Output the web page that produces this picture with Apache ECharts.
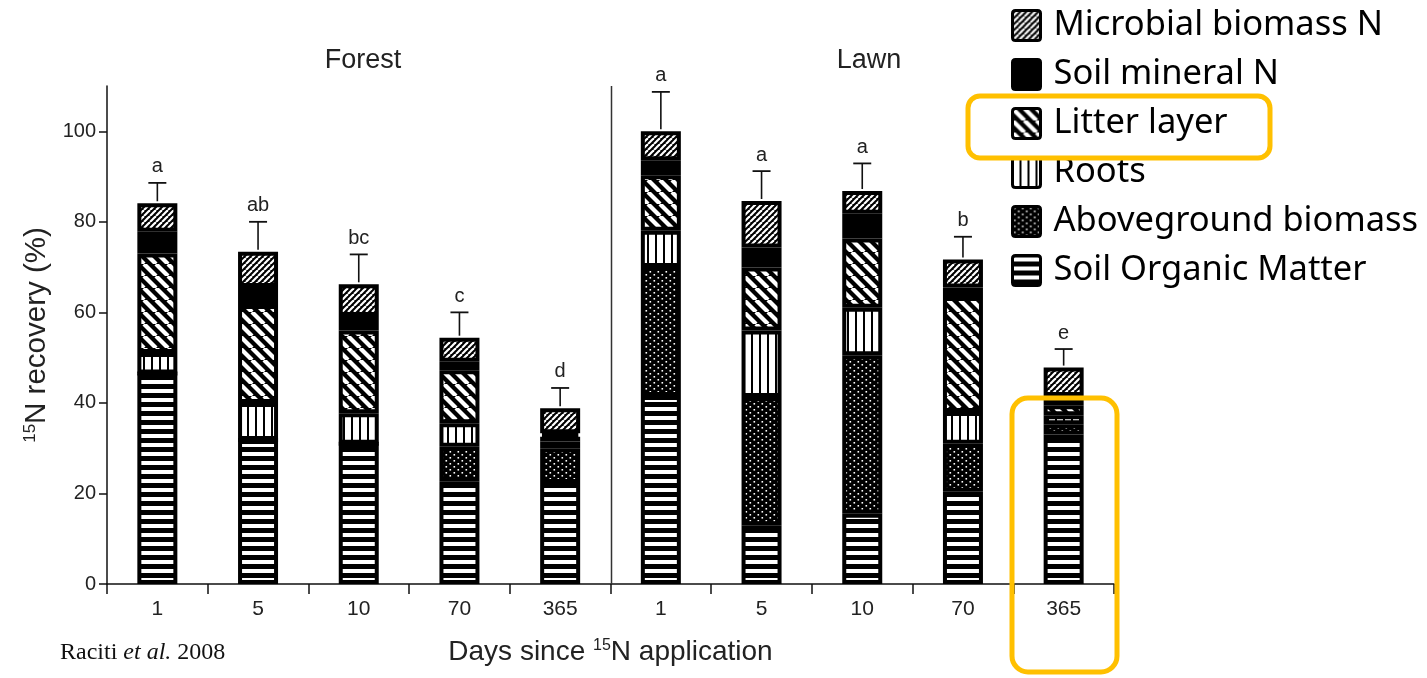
<!DOCTYPE html>
<html>
<head>
<meta charset="utf-8">
<script src="https://cdn.jsdelivr.net/npm/echarts@6/dist/echarts.min.js"></script>
<style>
  html, body { margin: 0; padding: 0; background: #fff; }
  #chart { width: 1427px; height: 678px; }
</style>
</head>
<body>
<div id="chart"></div>
<script>
// Days since 15N application, Forest (first five) then Lawn (last five)
const categories = ['1', '5', '10', '70', '365', '1', '5', '10', '70', '365'];
const yTicks = [0, 20, 40, 60, 80, 100];

// 15N recovery (%) by pool, stacked bottom to top
const soilOrganicMatter = [46.5, 31.8, 31.0, 22.6, 22.3, 41.5, 13.0, 15.5, 20.4, 33.0];
const abovegroundBiomass = [0, 0, 0, 7.7, 7.7, 28.5, 28.3, 35.0, 10.6, 2.3];
const roots = [4.5, 8.2, 6.7, 5.2, 1.5, 8.0, 14.7, 10.5, 7.0, 2.0];
const litterLayer = [22.0, 21.6, 18.3, 11.7, 1.0, 12.3, 13.9, 15.3, 25.4, 2.2];
const soilMineralN = [4.8, 4.0, 3.2, 1.9, 0.8, 3.3, 4.4, 5.5, 2.1, 2.0];
const microbialBiomassN = [6.3, 7.8, 7.0, 5.3, 5.5, 6.4, 10.3, 5.0, 6.2, 6.3];

// Upper end of the error bar and significance letters
const errorTop = [88.6, 80.0, 72.8, 60.0, 43.3, 108.7, 91.2, 92.9, 76.7, 51.9];
const letters = ['a', 'ab', 'bc', 'c', 'd', 'a', 'a', 'a', 'b', 'e'];

const groups = ['Forest', 'Lawn'];

// ---------- fill patterns (white marks on black) ----------
function makeCanvas(w, h, draw) {
  const c = document.createElement('canvas');
  c.width = w; c.height = h;
  const ctx = c.getContext('2d');
  ctx.fillStyle = '#000';
  ctx.fillRect(0, 0, w, h);
  ctx.fillStyle = '#fff';
  ctx.strokeStyle = '#fff';
  draw(ctx, w, h);
  return c;
}
function diagonal(ctx, w, h, lw, dir) {
  ctx.lineWidth = lw;
  for (let k = -1; k <= 1; k++) {
    ctx.beginPath();
    if (dir > 0) { // "/"
      ctx.moveTo(k * w, h); ctx.lineTo(k * w + w, 0);
    } else {       // "\"
      ctx.moveTo(k * w, 0); ctx.lineTo(k * w + w, h);
    }
    ctx.stroke();
  }
}
const patSOM = makeCanvas(8, 9, (ctx, w) => ctx.fillRect(0, 2, w, 4));
const patRoots = makeCanvas(8, 8, (ctx, w, h) => ctx.fillRect(1, 0, 6, h));
const patLitter = makeCanvas(12, 12, (ctx, w, h) => diagonal(ctx, w, h, 4.2, -1));
const patMicrobial = makeCanvas(6, 6, (ctx, w, h) => diagonal(ctx, w, h, 2.2, 1));
const patAbove = makeCanvas(8, 6, (ctx) => {
  ctx.fillRect(1.5, 1, 1.6, 1.6);
  ctx.fillRect(5.5, 4, 1.6, 1.6);
});

function pattern(c) { return { image: c, repeat: 'repeat' }; }

const pools = [
  { name: 'Soil Organic Matter', data: soilOrganicMatter, fill: pattern(patSOM) },
  { name: 'Aboveground biomass', data: abovegroundBiomass, fill: pattern(patAbove) },
  { name: 'Roots', data: roots, fill: pattern(patRoots) },
  { name: 'Litter layer', data: litterLayer, fill: pattern(patLitter) },
  { name: 'Soil mineral N', data: soilMineralN, fill: '#000' },
  { name: 'Microbial biomass N', data: microbialBiomassN, fill: pattern(patMicrobial) }
];

const totals = categories.map((_, i) => pools.reduce((s, p) => s + p.data[i], 0));

const barSeries = pools.map(p => ({
  name: p.name,
  type: 'bar',
  stack: 'recovery',
  barWidth: 40,
  data: p.data,
  itemStyle: { color: p.fill, borderColor: '#000', borderWidth: 4 },
  emphasis: { disabled: true },
  animation: false
}));

const errorSeries = {
  type: 'custom',
  name: 'error',
  data: categories.map((_, i) => [i, totals[i], errorTop[i]]),
  renderItem: function (params, api) {
    const i = api.value(0);
    const base = api.coord([i, api.value(1)]);
    const top = api.coord([i, api.value(2)]);
    const cap = 9;
    return {
      type: 'group',
      children: [
        { type: 'line', shape: { x1: base[0], y1: base[1] - 2, x2: top[0], y2: top[1] },
          style: { stroke: '#111', lineWidth: 1.6 } },
        { type: 'line', shape: { x1: top[0] - cap, y1: top[1], x2: top[0] + cap, y2: top[1] },
          style: { stroke: '#111', lineWidth: 1.8 } },
        { type: 'text', x: top[0], y: top[1] - 6,
          style: { text: letters[params.dataIndex], align: 'center', verticalAlign: 'bottom',
                   fontFamily: 'Liberation Sans', fontSize: 20, fill: '#222' } }
      ]
    };
  },
  z: 5,
  animation: false
};

const chart = echarts.init(document.getElementById('chart'), null, { renderer: 'canvas' });

const legendIcon = 'path://M3,0 H25 Q28,0 28,3 V27 Q28,30 25,30 H3 Q0,30 0,27 V3 Q0,0 3,0 Z';

const option = {
  backgroundColor: '#fff',
  animation: false,
  grid: { left: 107, right: 313, top: 86, bottom: 94 },
  title: [
    { text: groups[0], left: 358, top: 42, textAlign: 'center',
      textStyle: { fontFamily: 'Liberation Sans', fontSize: 27, fontWeight: 'normal', color: '#222' } },
    { text: groups[1], left: 864, top: 42, textAlign: 'center',
      textStyle: { fontFamily: 'Liberation Sans', fontSize: 27, fontWeight: 'normal', color: '#222' } }
  ],
  legend: {
    orient: 'vertical',
    left: 1006,
    top: 3,
    itemWidth: 28,
    itemHeight: 30,
    itemGap: 14,
    icon: legendIcon,
    selectedMode: false,
    itemStyle: { borderColor: '#000', borderWidth: 3 },
    textStyle: { fontFamily: 'Noto Sans', fontSize: 34.5, lineHeight: 34, color: '#000', padding: [0, 0, 0, 8] },
    data: ['Microbial biomass N', 'Soil mineral N', 'Litter layer', 'Roots',
           'Aboveground biomass', 'Soil Organic Matter']
  },
  xAxis: {
    type: 'category',
    data: categories,
    boundaryGap: true,
    name: '{t|Days since }{sup|15}{t|N application}',
    nameLocation: 'middle',
    nameGap: 54,
    nameTextStyle: {
      rich: {
        t: { fontFamily: 'Liberation Sans', fontSize: 28, color: '#222' },
        sup: { fontFamily: 'Liberation Sans', fontSize: 16, color: '#222', verticalAlign: 'top', padding: [0, 0, 12, 0] }
      }
    },
    axisLine: { lineStyle: { color: '#111', width: 1.5 } },
    axisTick: { show: true, length: 10, lineStyle: { color: '#111', width: 1.5 } },
    axisLabel: { margin: 15, fontFamily: 'Liberation Sans', fontSize: 21, color: '#222' },
    splitLine: { show: false }
  },
  yAxis: {
    type: 'value',
    min: 0,
    max: 110,
    interval: 20,
    name: '{sup|15}{t|N recovery (%)}',
    nameLocation: 'middle',
    nameRotate: 90,
    nameGap: 52,
    nameTextStyle: {
      rich: {
        t: { fontFamily: 'Liberation Sans', fontSize: 29.5, color: '#222' },
        sup: { fontFamily: 'Liberation Sans', fontSize: 17, color: '#222', verticalAlign: 'top', padding: [0, 0, 12, 0] }
      }
    },
    axisLine: { show: true, lineStyle: { color: '#111', width: 1.5 } },
    axisTick: { show: true, length: 8, customValues: yTicks, lineStyle: { color: '#111', width: 1.5 } },
    axisLabel: { margin: 11, customValues: yTicks, fontFamily: 'Liberation Sans', fontSize: 20, color: '#222' },
    splitLine: { show: false }
  },
  graphic: [
    {
      id: 'citation', type: 'text', left: 60, top: 641, z: 10,
      style: {
        text: '{n|Raciti }{i|et al.}{n| 2008}',
        rich: {
          n: { fontFamily: 'Liberation Serif', fontSize: 24, fill: '#111' },
          i: { fontFamily: 'Liberation Serif', fontSize: 24, fontStyle: 'italic', fill: '#111' }
        }
      }
    },
    {
      id: 'markLegend', type: 'rect', z: 100,
      shape: { x: 968, y: 96, width: 302, height: 62, r: 12 },
      style: { fill: 'none', stroke: '#FFC000', lineWidth: 5 }
    },
    {
      id: 'markBar', type: 'rect', z: 100,
      shape: { x: 1012, y: 398, width: 105, height: 274, r: 16 },
      style: { fill: 'none', stroke: '#FFC000', lineWidth: 5 }
    }
  ],
  series: barSeries.concat([errorSeries])
};

chart.setOption(option);

// Vertical divider between the Forest and Lawn groups, placed on the category boundary
const xLeft = chart.convertToPixel({ xAxisIndex: 0 }, 4);
const xRight = chart.convertToPixel({ xAxisIndex: 0 }, 5);
const yTop = chart.convertToPixel({ yAxisIndex: 0 }, 110);
const yBottom = chart.convertToPixel({ yAxisIndex: 0 }, 0);
const xDiv = Math.round((xLeft + xRight) / 2) + 0.5;
chart.setOption({
  graphic: [{
    id: 'divider', type: 'line', z: 1,
    shape: { x1: xDiv, y1: yTop, x2: xDiv, y2: yBottom },
    style: { stroke: '#333', lineWidth: 1.5 }
  }]
});
</script>
</body>
</html>
